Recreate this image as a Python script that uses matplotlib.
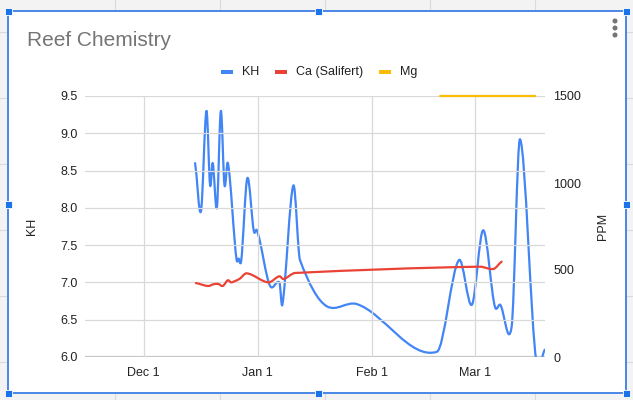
import matplotlib
matplotlib.use('Agg')
import matplotlib.pyplot as plt
import matplotlib.dates as mdates
from matplotlib.path import Path
from matplotlib.patches import PathPatch, Rectangle, Circle
import numpy as np
import pandas as pd

plt.rcParams['font.family'] = ['Liberation Sans', 'DejaVu Sans']

# KH readings
kh_dates = ['2020-12-15 00:00', '2020-12-16 14:00', '2020-12-18 02:00', '2020-12-19 02:00',
            '2020-12-19 19:00', '2020-12-20 22:00', '2020-12-22 00:00', '2020-12-23 00:00',
            '2020-12-23 22:00', '2020-12-26 07:00', '2020-12-26 20:00', '2020-12-27 12:00',
            '2020-12-29 05:00', '2020-12-31 00:00', '2020-12-31 19:00', '2021-01-04 10:00',
            '2021-01-06 22:00', '2021-01-07 17:00', '2021-01-10 17:00', '2021-01-12 12:00',
            '2021-01-19 19:00', '2021-01-27 22:00', '2021-02-18 17:00', '2021-02-24 17:00',
            '2021-02-28 05:00', '2021-03-03 07:00', '2021-03-06 12:00', '2021-03-07 22:00',
            '2021-03-11 00:00', '2021-03-13 07:00', '2021-03-17 17:00', '2021-03-20 02:00']
kh_values = [8.6, 7.95, 9.3, 8.3, 8.6, 8.0, 9.3, 8.3, 8.6, 7.3, 7.32, 7.28, 8.4, 7.68,
             7.7, 6.95, 7.0, 6.7, 8.3, 7.3, 6.68, 6.71, 6.07, 7.3, 6.7, 7.7, 6.67, 6.7,
             6.4, 8.92, 5.95, 6.1]

# Calcium (Salifert) readings, ppm
ca_dates = ['2020-12-15 05:00', '2020-12-18 14:00', '2020-12-20 00:00', '2020-12-21 07:00',
            '2020-12-22 12:00', '2020-12-23 22:00', '2020-12-24 19:00', '2020-12-25 22:00',
            '2020-12-27 00:00', '2020-12-29 00:00', '2021-01-03 22:00', '2021-01-06 22:00',
            '2021-01-08 00:00', '2021-01-11 05:00', '2021-03-02 10:00', '2021-03-06 02:00',
            '2021-03-08 07:00']
ca_values = [425, 408, 418, 420, 408, 441, 429, 437, 448, 481, 429, 464, 448, 483,
             519, 506, 548]

# Magnesium readings, ppm
mg_dates = ['2021-02-19 14:00', '2021-03-17 10:00']
mg_values = [1500, 1500]

month_ticks = ['2020-12-01', '2021-01-01', '2021-02-01', '2021-03-01']
month_labels = ['Dec 1', 'Jan 1', 'Feb 1', 'Mar 1']

BLUE, RED, YELLOW = '#4285f4', '#ea4335', '#fbbc04'


def smooth_line(ax, dates, values, color, tension=0.75, clip=True):
    # smooth curve through the points, like the sheet's "function" curve
    x = mdates.date2num(pd.to_datetime(dates))
    y = np.asarray(values, dtype=float)
    n = len(x)
    m = np.zeros(n)
    for i in range(n):
        a, b = max(i - 1, 0), min(i + 1, n - 1)
        m[i] = tension * (y[b] - y[a]) / (x[b] - x[a])
    verts = [(x[0], y[0])]
    codes = [Path.MOVETO]
    for i in range(n - 1):
        dx = x[i + 1] - x[i]
        verts += [(x[i] + dx / 3, y[i] + m[i] * dx / 3),
                  (x[i + 1] - dx / 3, y[i + 1] - m[i + 1] * dx / 3),
                  (x[i + 1], y[i + 1])]
        codes += [Path.CURVE4] * 3
    ax.add_patch(PathPatch(Path(verts, codes), facecolor='none', edgecolor=color,
                           lw=1.6, capstyle='round', joinstyle='round', clip_on=clip))


fig = plt.figure(figsize=(6.33, 4.0), dpi=100)

# sheet background with the selected chart box
bg = fig.add_axes([0, 0, 1, 1], zorder=-5)
bg.set_xlim(0, 633)
bg.set_ylim(400, 0)
bg.axis('off')
bg.add_patch(Rectangle((0, 0), 633, 400, facecolor='#f3f3f3', edgecolor='none', zorder=0))
for xv in [115, 220, 325, 430, 535]:
    bg.plot([xv, xv], [0, 400], color='#dadada', lw=0.8, zorder=1)
for yv in np.arange(32, 400, 66):
    bg.plot([0, 633], [yv, yv], color='#dadada', lw=0.8, zorder=1)
bg.add_patch(Rectangle((8, 11), 618, 382, facecolor='white', edgecolor='#4a86e8',
                       lw=1.4, zorder=3))
for hx, hy in [(8, 11), (318, 11), (626, 11), (8, 204), (626, 204),
               (8, 393), (318, 393), (626, 393)]:
    bg.add_patch(Rectangle((hx - 3.5, hy - 3.5), 7, 7, facecolor='#1a73e8',
                           edgecolor='white', lw=0.6, zorder=4))
for dy in [21, 28, 35]:
    bg.add_patch(Circle((615, dy), 1.8, color='#757575', zorder=4))

# title and legend
fig.text(27 / 633, 1 - 41 / 400, 'Reef Chemistry', fontsize=15, color='#757575', va='center')
for sx, tx, col, lab in [(221, 242, BLUE, 'KH'), (275, 296, RED, 'Ca (Salifert)'),
                         (379, 400, YELLOW, 'Mg')]:
    bg.add_patch(Rectangle((sx, 69.5), 12, 4.5, facecolor=col, edgecolor='none', zorder=4))
    fig.text(tx / 633, 1 - 72 / 400, lab, fontsize=9, color='#222222', va='center')

ax = fig.add_axes([85 / 633, 1 - 357 / 400, 460 / 633, 261 / 400])
ax.patch.set_alpha(0)
ax2 = ax.twinx()

ax.set_xlim(mdates.date2num(pd.Timestamp('2020-11-15 02:00')),
            mdates.date2num(pd.Timestamp('2021-03-20 02:00')))
ax.set_ylim(6.0, 9.5)
ax2.set_ylim(0, 1500)

ax.set_xticks(mdates.date2num(pd.to_datetime(month_ticks)))
ax.set_xticklabels(month_labels)
ax.set_yticks(np.arange(6.0, 9.51, 0.5))
ax.set_yticklabels(['%.1f' % v for v in np.arange(6.0, 9.51, 0.5)])
ax2.set_yticks([0, 500, 1000, 1500])

ax.grid(True, color='#d9d9d9', lw=0.9)
ax.axhline(6.0, color='#c6c6c6', lw=1.6, zorder=1)
for a in (ax, ax2):
    for s in a.spines.values():
        s.set_visible(False)
ax.tick_params(axis='both', length=0, labelsize=9, labelcolor='#222222')
ax.tick_params(axis='y', pad=5)
ax.tick_params(axis='x', pad=7)
ax2.tick_params(axis='y', length=0, labelsize=9, labelcolor='#222222', pad=6)

smooth_line(ax, kh_dates, kh_values, BLUE)
smooth_line(ax2, ca_dates, ca_values, RED)
smooth_line(ax2, mg_dates, mg_values, YELLOW, clip=False)

fig.text(32 / 633, 1 - 226 / 400, 'KH', rotation=90, fontsize=9, color='#222222',
         ha='center', va='center')
fig.text(603 / 633, 1 - 226 / 400, 'PPM', rotation=90, fontsize=9, color='#222222',
         ha='center', va='center')

fig.savefig('out.png', dpi=100)
